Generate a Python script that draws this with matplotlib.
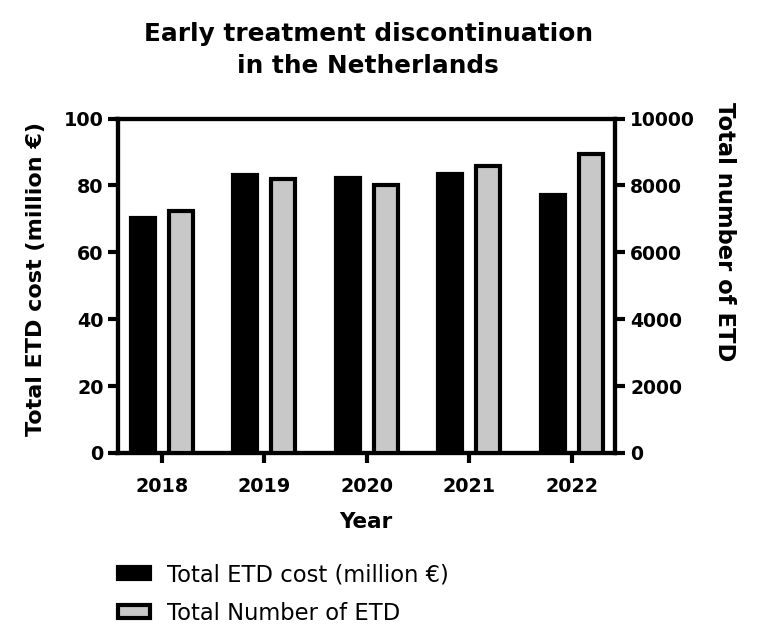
import matplotlib
matplotlib.use("Agg")
import matplotlib.pyplot as plt
import numpy as np
from matplotlib.patches import Patch

plt.rcParams['font.family'] = ['DejaVu Sans']

years = ["2018", "2019", "2020", "2021", "2022"]
cost_million = [70.2, 83.2, 82.2, 83.4, 77.0]
etd_count = [7220, 8190, 8010, 8580, 8940]

W, H = 760, 640
fig = plt.figure(figsize=(W / 100, H / 100), dpi=100)
L, R, T, B = 117.5, 615, 118.5, 453
ax = fig.add_axes([L / W, 1 - B / H, (R - L) / W, (B - T) / H])
ax2 = ax.twinx()

x = np.arange(len(years))
bw = 0.235
off = 0.185
lw = 3.0
ax.bar(x - off, cost_million, bw, color='black', edgecolor='black', linewidth=lw, zorder=3)
ax2.bar(x + off, etd_count, bw, color='#c8c8c8', edgecolor='black', linewidth=lw, zorder=3)

ax.set_xlim(-0.43, 4.42)
ax.set_ylim(0, 100)
ax2.set_ylim(0, 10000)
ax.set_yticks(np.arange(0, 101, 20))
ax2.set_yticks(np.arange(0, 10001, 2000))
ax.set_xticks(x)
ax.set_xticklabels(years)

for a in (ax, ax2):
    for s in a.spines.values():
        s.set_linewidth(lw)
    a.tick_params(width=lw, length=7, labelsize=13.8, pad=3)
    for lab in a.get_yticklabels() + a.get_xticklabels():
        lab.set_fontweight('bold')
ax.tick_params(axis='x', pad=10)
ax2.tick_params(axis='y', labelsize=13.5, pad=4)

ax.set_xlabel("Year", fontsize=15.5, fontweight='bold', labelpad=12)
fig.text(36 / W, 1 - 279 / H, "Total ETD cost (million €)", rotation=90,
         ha='center', va='center', fontsize=16, fontweight='bold')
fig.text(725 / W, 1 - 232 / H, "Total number of ETD", rotation=270,
         ha='center', va='center', fontsize=16.3, fontweight='bold')

fig.text(368 / W, 1 - 50 / H, "Early treatment discontinuation\nin the Netherlands",
         ha='center', va='center', fontsize=17.8, fontweight='bold', linespacing=1.4)

handles = [Patch(facecolor='black', edgecolor='black', linewidth=lw),
           Patch(facecolor='#c8c8c8', edgecolor='black', linewidth=lw)]
fig.legend(handles, ["Total ETD cost (million €)", "Total Number of ETD"],
           loc='center left', bbox_to_anchor=(98 / W, 1 - 594 / H), frameon=False,
           fontsize=16.3, handlelength=1.4, handleheight=0.5, handletextpad=0.75,
           labelspacing=0.7)

fig.savefig("out.png", dpi=100)
